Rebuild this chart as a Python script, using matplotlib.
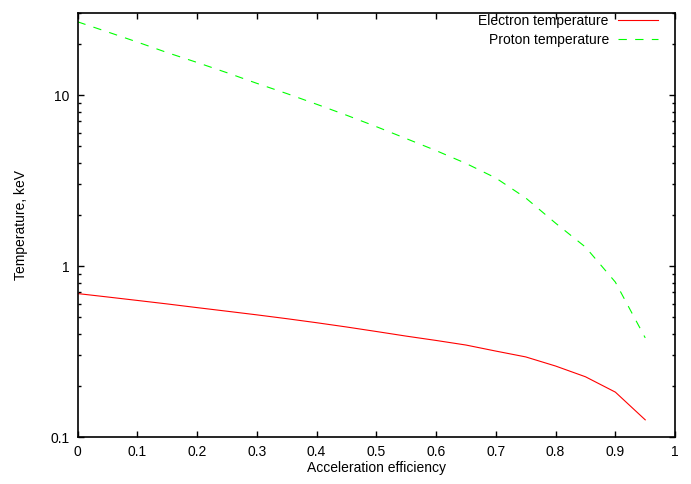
import numpy as np
import matplotlib
matplotlib.use("Agg")
import matplotlib.pyplot as plt
from matplotlib.ticker import FixedLocator, LogLocator, NullFormatter

# acceleration efficiency grid
eff = [0.0, 0.05, 0.1, 0.15, 0.2, 0.25, 0.3, 0.35, 0.4, 0.45,
       0.5, 0.55, 0.6, 0.65, 0.7, 0.75, 0.8, 0.85, 0.9, 0.95]
# temperatures in keV
t_electron = [0.690, 0.659, 0.629, 0.600, 0.571, 0.544, 0.518, 0.492, 0.466, 0.440,
              0.414, 0.389, 0.367, 0.345, 0.318, 0.294, 0.260, 0.225, 0.183, 0.126]
t_proton = [26.8, 23.4, 20.4, 17.7, 15.5, 13.5, 11.7, 10.2, 8.83, 7.62,
            6.53, 5.56, 4.73, 3.98, 3.27, 2.50, 1.78, 1.29, 0.805, 0.38]

xticks = [0, 0.1, 0.2, 0.3, 0.4, 0.5, 0.6, 0.7, 0.8, 0.9, 1]
xticklabels = ["0", "0.1", "0.2", "0.3", "0.4", "0.5", "0.6", "0.7", "0.8", "0.9", "1"]
yticks = [0.1, 1, 10]
yticklabels = ["0.1", "1", "10"]

plt.rcParams['font.family'] = ['Liberation Sans', 'DejaVu Sans']
plt.rcParams['lines.scale_dashes'] = False
fs = 10

fig = plt.figure(figsize=(6.91, 4.84), dpi=100)
ax = fig.add_axes([0.1123, 0.0971, 0.8647, 0.8767])

ax.plot(eff, t_electron, color='#ff0000', lw=0.8, label='Electron temperature')
ax.plot(eff, t_proton, color='#00ff00', lw=0.8, dashes=(6, 6), label='Proton temperature')

ax.set_yscale('log')
ax.set_xlim(0, 1)
ax.set_ylim(0.1, 30.3)

ax.xaxis.set_major_locator(FixedLocator(xticks))
ax.set_xticklabels(xticklabels)
ax.yaxis.set_major_locator(FixedLocator(yticks))
ax.set_yticklabels(yticklabels)
ax.yaxis.set_minor_locator(LogLocator(base=10, subs=np.arange(2, 10)))
ax.yaxis.set_minor_formatter(NullFormatter())

ax.tick_params(which='both', direction='in', top=True, right=True,
               labelsize=fs, width=1, color='black')
ax.tick_params(which='major', length=4.5, pad=6)
ax.tick_params(which='minor', length=2.5)
for s in ax.spines.values():
    s.set_linewidth(1.2)

ax.set_xlabel('Acceleration efficiency', fontsize=fs, labelpad=1)
ax.set_ylabel('Temperature, keV', fontsize=fs, labelpad=16)

ax.legend(loc='upper right', bbox_to_anchor=(1 - 17 / 597, 0.997),
          frameon=False, markerfirst=False, fontsize=fs,
          handlelength=2.9, handletextpad=0.65, labelspacing=0.36,
          borderaxespad=0, borderpad=0)

fig.savefig('out.png', dpi=100)
